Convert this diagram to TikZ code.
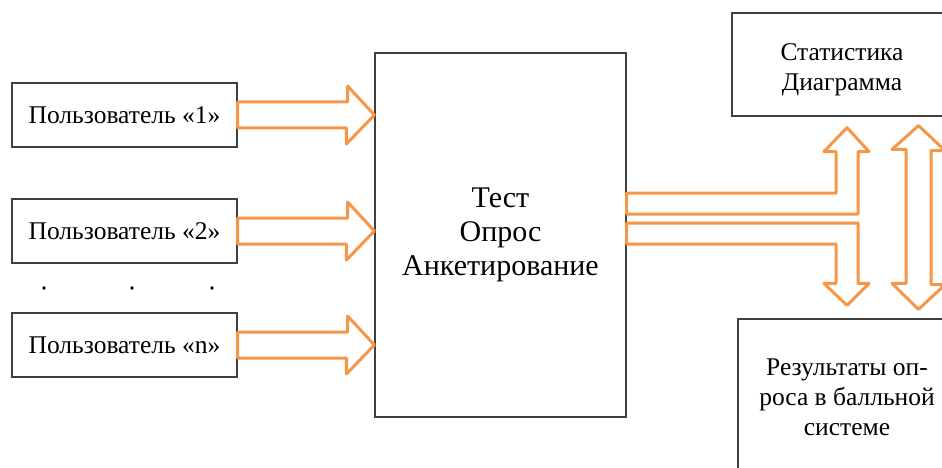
\documentclass[tikz,border=0pt]{standalone}
\usepackage{xcolor}
\usepackage{fontspec}
\setmainfont{Liberation Serif}
\usetikzlibrary{calc}
\definecolor{arroworange}{HTML}{F79646} %kolor strzałek
\definecolor{boxgray}{HTML}{404040}    %kolor ramek

\begin{document}
\begin{tikzpicture}[
			x=1pt, y=-1pt,
			box/.style = {draw=boxgray, line width=1.2pt, align=center, inner sep=0pt},
			userbox/.style = {box, minimum width=225pt, minimum height=64pt, font=\fontsize{25.5}{30}\selectfont},
			sidebox/.style = {box, font=\fontsize{25.5}{30}\selectfont},
			blockarrow/.style = {draw=arroworange, line width=3pt, line join=round},
			dot/.style = {circle, fill=black, inner sep=1.3pt}
			]
			\useasboundingbox (0,0) rectangle (942,468);
			\clip (0,0) rectangle (942,468);
			\node[box, minimum width=251pt, minimum height=364pt, font=\fontsize{30}{34}\selectfont] (test) at (500.5,235) {Тест\\Опрос\\Анкетирование};
			\node[sidebox, minimum width=220pt, minimum height=103pt] (stat) at (842,64.5) {\\[-3pt]Статистика\\Диаграмма};
			\node[sidebox, minimum width=218pt, minimum height=157pt] (res) at (847,397.5) {Результаты оп-\\роса в балльной\\системе};
			\foreach \u/\y in {1/115, 2/231, n/345}
				\node[userbox] (u\u) at (124.5,\y) {Пользователь «\u»};
			\foreach \x [count=\k] in {44,132,212}
				\node[dot] (dot\k) at (\x,288) {};
			% strzałki od użytkowników
			\foreach \u in {1,2,n}
				\draw[blockarrow] ($(u\u.east)+(0,-13)$) -- ++(110,0) -- ++(0,-16) -- (u\u.east -| test.west) -- ++(-28,29) -- ++(0,-16) -- ($(u\u.east)+(0,13)$) -- cycle;
			% strzałki do wyników
			\draw[blockarrow] ($(test.east)+(0,-21)$) -| ($(stat.south)+(16,35)$) -- ++(11,0) -- ($(stat.south)+(5,11)$) -- ++(-23,24) -- ++(12,0) |- ($(test.east)+(0,-42)$) -- cycle;
			\draw[blockarrow] ($(test.east)+(0,-12)$) -| ($(res.north)+(11,-35)$) -- ++(11,0) -- ($(res.north)+(0,-13)$) -- ++(-23,-22) -- ++(12,0) |- ($(test.east)+(0,9)$) -- cycle;
			\draw[blockarrow] ($(stat.south)+(76.5,9)$) -- ++(26.5,25) -- ++(-14,0) -- ++(0,134) -- ++(14,0) -- ($(res.north)+(71.5,-9)$) -- ++(-26.5,-26) -- ++(14,0) -- ++(0,-134) -- ++(-14,0) -- cycle;
\end{tikzpicture}
\end{document}
